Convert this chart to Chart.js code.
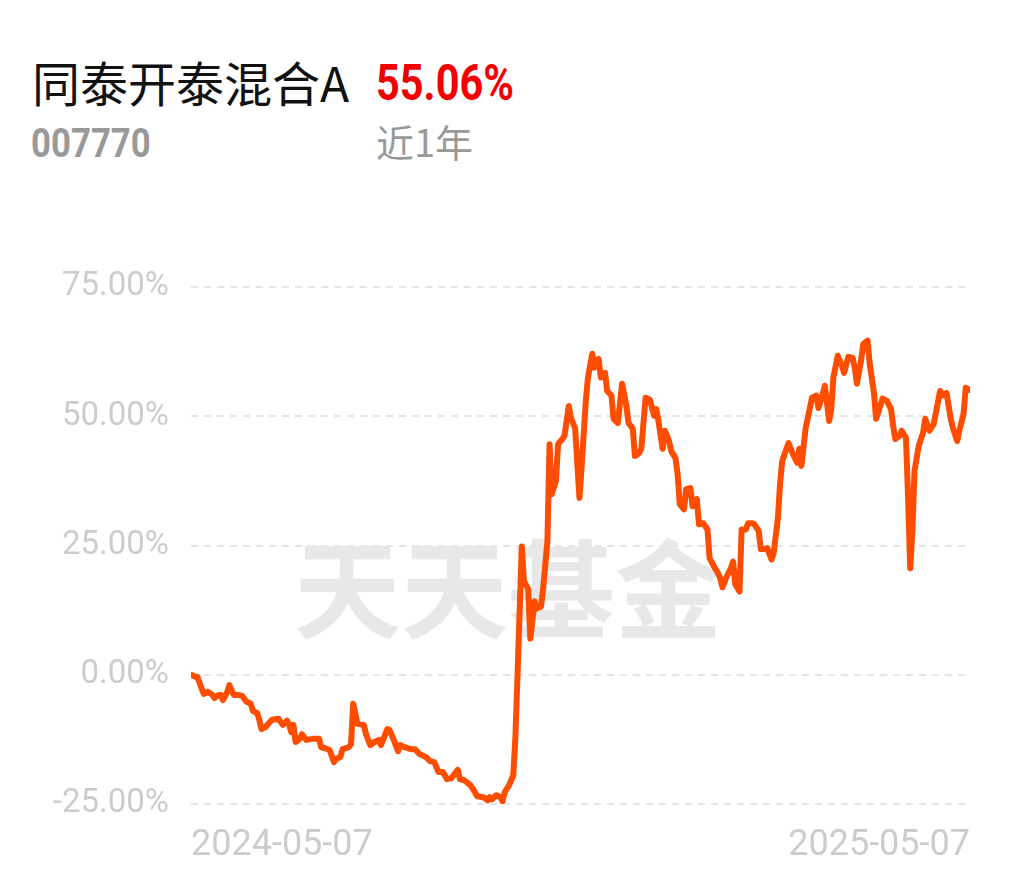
<!DOCTYPE html>
<html>
<head>
<meta charset="utf-8">
<script src="https://cdn.jsdelivr.net/npm/chart.js@4.4.1/dist/chart.umd.min.js"></script>
<style>
  html, body { margin: 0; padding: 0; background: #fff; width: 1014px; height: 876px; overflow: hidden; }
  .abs { position: absolute; white-space: nowrap; line-height: 1; }
  #title { left: 32px; top: 46px; font: 48px "Noto Sans CJK SC", sans-serif; color: #111; }
  #pct { left: 376px; top: 54px; font: bold 50px Roboto, sans-serif; color: #f20000; transform: scaleX(0.83); transform-origin: left top; }
  #code { left: 31px; top: 120px; font: bold 40px Roboto, sans-serif; color: #999; transform: scaleX(0.87); transform-origin: left top; }
  #period { left: 376px; top: 113px; font: 38px "Noto Sans CJK SC", sans-serif; color: #999; }
  #wm { left: 294px; top: 506px; font: bold 107px "Noto Sans CJK SC", sans-serif; color: #e8e8e8; z-index: 0; }
  #wrap { position: absolute; left: 0; top: 0; width: 1014px; height: 876px; z-index: 1; }
</style>
</head>
<body>
<div class="abs" id="wm">天天基金</div>
<div class="abs" id="title">同泰开泰混合A</div>
<div class="abs" id="pct">55.06%</div>
<div class="abs" id="code">007770</div>
<div class="abs" id="period">近1年</div>
<div id="wrap"><canvas id="c" width="1014" height="876"></canvas></div>
<script>
// Days since 2024-05-07
const days = [0,2,3,5,6,8,10,11,13,14,15,17,18,20,22,24,26,28,29,31,32,33,35,37,38,41,42,43,45,46,47,48,49,51,52,54,57,60,61,64,65,67,68,70,71,74,75,
76,78,81,82,84,86,88,89,92,93,95,97,98,100,103,105,107,110,112,114,116,118,120,122,125,126,128,131,133,134,137,139,140,141,143,145,146,147,149,151,152,153,154,
155,156,158,159,161,162,164,165,167,168,169,171,172,174,175,177,178,180,182,183,185,186,188,189,191,192,194,195,197,198,200,202,204,205,207,208,210,211,
213,215,217,218,219,221,222,224,225,227,228,229,231,232,234,235,237,238,240,242,243,245,247,248,249,251,253,254,255,257,258,260,261,263,264,266,267,269,270,272,273,
275,276,277,279,280,282,284,285,286,288,289,291,293,294,296,297,299,300,301,303,305,306,308,310,311,312,314,315,317,318,320,321,322,324,326,328,329,330,332,333,335,
336,337,338,339,341,343,344,346,348,351,352,354,356,357,359,360,362,363,365];
// Cumulative return (%)
const returns = [0.0,-0.4,-0.4,-2.7,-3.7,-3.3,-3.9,-4.5,-3.9,-3.9,-4.9,-3.3,-2.0,-3.9,-3.9,-4.1,-5.2,-5.6,-7.0,-7.4,-8.7,-10.5,-10.1,-9.1,-8.7,-8.5,-9.1,-9.7,-8.9,-9.7,-11.1,-9.7,-13.0,-12.4,-11.5,-12.6,-12.4,-12.4,-14.0,-14.4,-14.6,-16.9,-16.3,-15.9,-14.4,-14.0,-13.4,
-5.6,-9.5,-9.7,-11.5,-13.6,-13.0,-12.6,-13.6,-10.5,-10.7,-12.6,-14.8,-13.6,-14.0,-14.4,-14.4,-15.3,-15.9,-16.7,-16.9,-18.8,-18.8,-20.2,-20.0,-18.4,-20.2,-20.4,-21.4,-22.7,-23.5,-23.7,-24.3,-23.7,-24.1,-23.3,-23.7,-24.5,-22.7,-21.4,-19.5,-12.0,0.0,12.5,
24.8,18.1,16.5,7.0,14.2,12.8,13.2,16.7,25.8,44.6,34.9,37.5,44.6,45.6,46.2,52.0,49.7,47.6,34.2,40.0,53.0,57.5,62.1,59.4,61.1,57.5,58.4,54.9,54.0,49.5,48.7,56.3,52.0,48.7,47.6,42.3,42.9,43.7,
53.6,53.2,50.1,51.4,49.1,43.7,47.2,45.2,43.3,41.9,38.8,33.0,32.0,35.9,36.1,32.6,34.0,29.1,29.3,28.1,22.5,21.0,19.6,18.6,16.9,19.0,20.6,21.9,17.5,16.1,28.1,28.1,29.3,29.3,29.1,27.8,24.3,24.3,24.5,22.3,23.5,
30.3,36.9,41.3,43.7,44.8,42.7,41.0,43.7,40.4,47.7,49.7,53.6,54.0,51.6,54.3,55.9,49.1,51.4,57.5,61.7,59.8,58.4,61.5,61.3,59.4,56.3,60.9,64.0,64.6,60.2,54.5,49.5,50.7,53.4,53.0,51.4,48.1,45.6,46.2,47.2,45.8,
34.2,20.6,27.8,39.4,44.3,46.8,49.5,47.2,48.5,54.9,54.0,54.5,49.5,47.7,45.2,47.2,50.5,55.5,55.06];
const xTickValues = [0, 365];
const xTickLabels = ['2024-05-07', '2025-05-07'];
const yTicks = [-25, 0, 25, 50, 75];

const points = days.map((d, i) => ({ x: d, y: returns[i] }));

new Chart(document.getElementById('c'), {
  type: 'line',
  data: {
    datasets: [{
      data: points,
      borderColor: '#ff4d00',
      borderWidth: 6,
      pointRadius: 0,
      tension: 0,
      borderJoinStyle: 'round',
      borderCapStyle: 'round',
      fill: false
    }]
  },
  options: {
    responsive: false,
    animation: false,
    events: [],
    layout: { padding: { top: 287, right: 44, left: 0, bottom: 0 } },
    plugins: { legend: { display: false }, tooltip: { enabled: false } },
    scales: {
      x: {
        type: 'linear',
        min: xTickValues[0],
        max: xTickValues[xTickValues.length - 1],
        afterBuildTicks: s => { s.ticks = xTickValues.map(v => ({ value: v })); },
        afterFit: s => { s.height = 72; },
        grid: { display: false, drawTicks: false },
        border: { display: false },
        ticks: {
          align: 'inner',
          padding: 20,
          maxRotation: 0,
          autoSkip: false,
          color: '#cccccc',
          font: { family: 'Roboto', size: 36 },
          callback: v => xTickLabels[xTickValues.indexOf(v)]
        }
      },
      y: {
        min: yTicks[0],
        max: yTicks[yTicks.length - 1],
        afterBuildTicks: s => { s.ticks = yTicks.map(v => ({ value: v })); },
        afterFit: s => { s.width = 191; },
        grid: { color: '#e6e6e6', lineWidth: 2, drawTicks: false },
        border: { display: false, dash: [7, 6] },
        ticks: {
          padding: 22,
          color: '#cccccc',
          font: { family: 'Roboto', size: 33 },
          callback: v => v.toFixed(2) + '%'
        }
      }
    }
  }
});
</script>
</body>
</html>
